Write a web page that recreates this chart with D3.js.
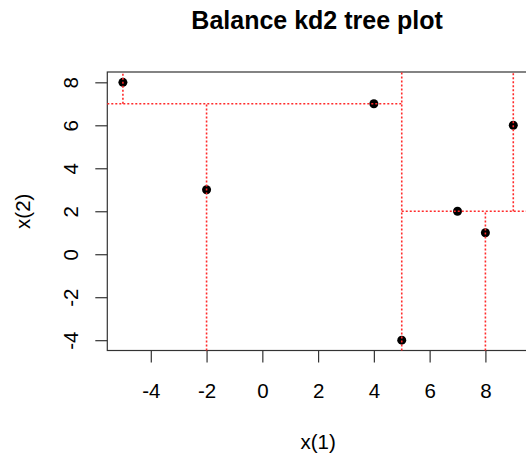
<!DOCTYPE html>
<html>
<head>
<meta charset="utf-8">
<script src="https://cdn.jsdelivr.net/npm/d3@7"></script>
<style>
  body { margin: 0; background: #fff; }
  svg { display: block; font-family: "Liberation Sans", Arial, sans-serif; }
</style>
</head>
<body>
<div id="chart"></div>
<script>
'use strict';

// Data points of the kd tree
const xValues = [-5, -2, 4, 5, 7, 8, 9];
const yValues = [8, 3, 7, -4, 2, 1, 6];
const xTicks = [-4, -2, 0, 2, 4, 6, 8];
const yTicks = [-4, -2, 0, 2, 4, 6, 8];

const width = 526, height = 458;
const plot = { left: 107.3, right: 528.9, top: 72, bottom: 350.5 };

const svg = d3.select('#chart')
    .append('svg')
    .attr('width', width)
    .attr('height', height);

// R style axis limits: data range + 4% each side
const xr = d3.extent(xValues), yr = d3.extent(yValues);
const xPad = (xr[1] - xr[0]) * 0.04, yPad = (yr[1] - yr[0]) * 0.04;
const xDom = [xr[0] - xPad, xr[1] + xPad];
const yDom = [yr[0] - yPad, yr[1] + yPad];

const x = d3.scaleLinear().domain(xDom).range([plot.left, plot.right]);
const y = d3.scaleLinear().domain(yDom).range([plot.bottom, plot.top]);

const points = xValues.map((v, i) => ({ x: v, y: yValues[i] }));

// Build a balanced kd tree (median split, alternating axis) -> split segments
function build(pts, depth, box, segs) {
    if (!pts.length) return;
    const key = depth % 2 === 0 ? 'x' : 'y';
    const sorted = pts.slice().sort((a, b) => a[key] - b[key]);
    const m = Math.floor(sorted.length / 2);
    const p = sorted[m];
    if (key === 'x') {
        segs.push({ x1: p.x, x2: p.x, y1: box.y0, y2: box.y1 });
        build(sorted.slice(0, m), depth + 1, { ...box, x1: p.x }, segs);
        build(sorted.slice(m + 1), depth + 1, { ...box, x0: p.x }, segs);
    } else {
        segs.push({ x1: box.x0, x2: box.x1, y1: p.y, y2: p.y });
        build(sorted.slice(0, m), depth + 1, { ...box, y1: p.y }, segs);
        build(sorted.slice(m + 1), depth + 1, { ...box, y0: p.y }, segs);
    }
}
const segments = [];
build(points, 0, { x0: xDom[0], x1: xDom[1], y0: yDom[0], y1: yDom[1] }, segments);

// Title
svg.append('text')
    .attr('x', (plot.left + plot.right) / 2 - 1)
    .attr('y', 29)
    .attr('text-anchor', 'middle')
    .attr('font-size', 25)
    .attr('font-weight', 'bold')
    .text('Balance kd2 tree plot');

// Axes
const xAxis = svg.append('g')
    .attr('transform', `translate(0,${plot.bottom})`)
    .call(d3.axisBottom(x).tickValues(xTicks).tickSize(12).tickFormat(d3.format('d')));
xAxis.select('.domain').remove();
xAxis.selectAll('line').attr('stroke', '#333').attr('stroke-width', 1.2);
xAxis.selectAll('text')
    .attr('dy', null)
    .attr('y', 47.5)
    .attr('font-size', 20.5)
    .attr('font-family', '"Liberation Sans", Arial, sans-serif')
    .attr('fill', '#000')
    .text(d => d < 0 ? '-' + Math.abs(d) : d);

const yAxis = svg.append('g')
    .attr('transform', `translate(${plot.left},0)`)
    .call(d3.axisLeft(y).tickValues(yTicks).tickSize(12));
yAxis.select('.domain').remove();
yAxis.selectAll('line').attr('stroke', '#333').attr('stroke-width', 1.2);
yAxis.selectAll('text')
    .attr('x', null).attr('dy', null)
    .attr('transform', 'translate(-29.3,0) rotate(-90)')
    .attr('text-anchor', 'middle')
    .attr('font-size', 20.5)
    .attr('font-family', '"Liberation Sans", Arial, sans-serif')
    .attr('fill', '#000')
    .text(d => d < 0 ? '-' + Math.abs(d) : d);

// Axis titles
svg.append('text')
    .attr('x', (plot.left + plot.right) / 2)
    .attr('y', 449)
    .attr('text-anchor', 'middle')
    .attr('font-size', 20.5)
    .text('x(1)');

svg.append('text')
    .attr('transform', `translate(30,${(plot.top + plot.bottom) / 2}) rotate(-90)`)
    .attr('text-anchor', 'middle')
    .attr('font-size', 20.5)
    .text('x(2)');

// Box
svg.append('rect')
    .attr('x', plot.left)
    .attr('y', plot.top)
    .attr('width', plot.right - plot.left)
    .attr('height', plot.bottom - plot.top)
    .attr('fill', 'none')
    .attr('stroke', '#333')
    .attr('stroke-width', 1.2);

// Points
svg.append('g').selectAll('circle')
    .data(points)
    .join('circle')
    .attr('cx', d => x(d.x))
    .attr('cy', d => y(d.y))
    .attr('r', 4.5)
    .attr('fill', '#000');

// kd tree split lines (drawn over the points)
svg.append('g').selectAll('line')
    .data(segments)
    .join('line')
    .attr('x1', d => x(d.x1))
    .attr('x2', d => x(d.x2))
    .attr('y1', d => y(d.y1))
    .attr('y2', d => y(d.y2))
    .attr('stroke', '#ff2a2a')
    .attr('stroke-width', 1.6)
    .attr('stroke-dasharray', '2,2');
</script>
</body>
</html>
